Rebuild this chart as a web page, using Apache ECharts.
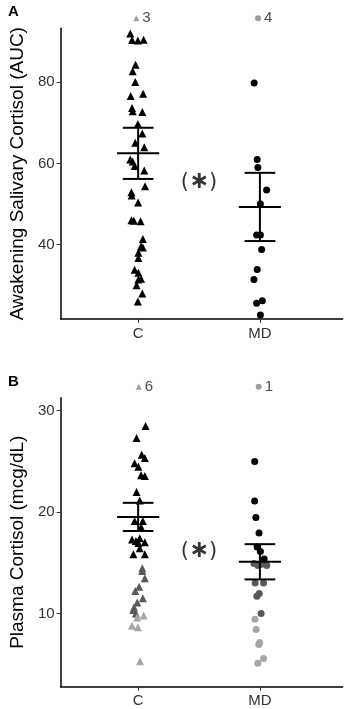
<!DOCTYPE html>
<html><head><meta charset="utf-8">
<script src="https://cdn.jsdelivr.net/npm/echarts@6/dist/echarts.min.js"></script>
<style>html,body{margin:0;padding:0;background:#fff;} #c{width:346px;height:709px;}</style>
</head><body><div id="c"></div>
<script>
const categories = ['C', 'MD'];
const panelLabels = ['A', 'B'];
const yTitles = ['Awakening Salivary Cortisol (AUC)', 'Plasma Cortisol (mcg/dL)'];

// Panel A – salivary cortisol (AUC)
const aCValues = [92.0, 90.4, 90.3, 90.5, 84.3, 82.7, 80.1, 76.6, 77.2, 73.7, 72.9, 72.7, 69.7, 67.4, 65.1, 64.0, 61.0, 60.5, 59.4, 58.3, 54.4, 52.9, 52.1, 50.4, 46.0, 45.9, 45.8, 41.4, 39.6, 39.3, 38.0, 36.7, 33.8, 33.1, 31.6, 31.4, 30.0, 28.0, 26.0];
const aCJitter = [-0.065, -0.05, -0.002, 0.045, -0.021, -0.045, -0.024, -0.061, 0.041, -0.05, -0.045, 0.034, -0.002, 0.034, -0.024, 0.05, -0.065, -0.045, -0.029, 0.05, 0.057, -0.055, -0.053, 0, -0.055, -0.035, 0.02, 0.039, 0.024, 0.039, 0.002, 0.002, -0.029, 0.002, 0.024, 0.002, -0.013, 0.034, -0.002];
const aMDValues = [79.8, 61.0, 59.0, 53.5, 50.0, 42.4, 42.4, 38.8, 33.9, 31.4, 25.6, 26.2, 22.7];
const aMDJitter = [-0.047, -0.022, -0.017, 0.055, 0.004, -0.027, 0.004, 0.014, -0.022, -0.049, -0.027, 0.02, 0.004];
const aMean = [62.5, 49.3];
const aLower = [56.2, 40.9];
const aUpper = [68.8, 57.7];
const aOffscale = [3, 4];
const aOffscaleJitter = [-0.015, -0.015];
const aYTicks = [40, 60, 80];
const aSigValue = 55.4;

// Panel B – plasma cortisol (mcg/dL)
const bCBlack = [28.46, 27.28, 25.64, 25.31, 24.79, 24.46, 23.61, 23.54, 21.97, 21.12, 19.11, 19.11, 18.53, 17.41, 17.29, 17.15, 16.95, 17.02, 16.43, 15.84, 15.84];
const bCBlackJitter = [0.061, -0.013, 0.029, 0.055, -0.029, 0.002, 0.024, 0.055, -0.013, 0.013, -0.029, 0.039, 0.024, 0.013, -0.05, -0.018, 0.002, 0.055, 0.013, -0.039, 0.055];
const bCDark = [14.46, 14.2, 13.48, 12.63, 12.23, 11.51, 11.1, 10.6, 10.34, 10.0];
const bCDarkJitter = [0.034, 0.034, 0.055, 0.008, -0.024, 0.039, -0.008, -0.034, -0.039, -0.018];
const bCLight = [9.8, 9.6, 8.8, 8.65, 5.3];
const bCLightJitter = [0.045, -0.008, -0.05, -0.002, 0.016];
const bMDBlack = [24.96, 21.08, 19.45, 17.94, 16.56, 16.11, 15.38];
const bMDBlackJitter = [-0.043, -0.043, -0.033, -0.007, -0.023, 0.004, 0.035];
const bMDDark = [14.93, 14.73, 14.86, 14.73, 13.0, 13.0, 11.98, 11.7, 10.0];
const bMDDarkJitter = [-0.049, -0.017, 0.014, 0.056, -0.039, 0.03, -0.006, -0.025, 0.01];
const bMDLight = [9.45, 8.44, 7.15, 6.95, 5.57, 5.1];
const bMDLightJitter = [-0.041, -0.031, -0.002, -0.009, 0.03, -0.017];
const bMean = [19.5, 15.09];
const bLower = [18.13, 13.36];
const bUpper = [20.9, 16.83];
const bOffscale = [6, 1];
const bOffscaleJitter = [0.005, -0.01];
const bYTicks = [10, 20, 30];
const bSigValue = 16.14;

const BLACK = '#000000', DARK = '#595959', LIGHT = '#a6a6a6', ANNO = '#858585';
const FONT = 'Liberation Sans, Arial, sans-serif';

function pts(values, jitter, cat) { return values.map((v, i) => [cat + 1 + jitter[i], v]); }

function errRender(params, api) {
  const x = api.value(0), m = api.value(1), lo = api.value(2), hi = api.value(3);
  const c = (xx, yy) => api.coord([xx, yy]);
  const style = { stroke: '#000', lineWidth: 2 };
  const mk = (p1, p2) => ({ type: 'line', shape: { x1: p1[0], y1: p1[1], x2: p2[0], y2: p2[1] }, style });
  return { type: 'group', children: [
    mk(c(x, lo), c(x, hi)),
    mk(c(x - 0.173, m), c(x + 0.173, m)),
    mk(c(x - 0.126, lo), c(x + 0.126, lo)),
    mk(c(x - 0.126, hi), c(x + 0.126, hi))
  ]};
}

function scat(gi, data, symbol, color, size) {
  return { type: 'scatter', xAxisIndex: gi, yAxisIndex: gi, data, symbol, symbolSize: size,
    itemStyle: { color, opacity: 1 }, silent: true, z: 3 };
}

const grids = [
  { left: 48, top: 28.3, width: 294.7, height: 290.7 },
  { left: 48, top: 397.7, width: 294.7, height: 289 }
];

function xAxisCfg(gi) {
  return { type: 'value', gridIndex: gi, min: 0.363, max: 2.68,
    axisLine: { show: true, onZero: false, lineStyle: { color: '#000', width: 1.5 } },
    splitLine: { show: false },
    axisTick: { show: true, customValues: [1, 2], length: 4, lineStyle: { color: '#333', width: 1 } },
    axisLabel: { customValues: [1, 2], formatter: v => categories[Math.round(v) - 1], fontSize: 15, color: '#333', margin: 7, fontFamily: FONT } };
}
function yAxisCfg(gi, min, max, ticks, title) {
  return { type: 'value', gridIndex: gi, min, max,
    name: title, nameLocation: 'middle', nameGap: 29,
    nameTextStyle: { fontSize: 19, color: '#000', fontFamily: FONT },
    axisLine: { show: true, onZero: false, lineStyle: { color: '#000', width: 1.5 } },
    splitLine: { show: false },
    axisTick: { show: true, customValues: ticks, length: 4, lineStyle: { color: '#333', width: 1 } },
    axisLabel: { customValues: ticks, fontSize: 15, color: '#333', margin: 6, fontFamily: FONT } };
}

function offscaleSeries(gi, yVal, counts, jit) {
  return [
    { type: 'scatter', xAxisIndex: gi, yAxisIndex: gi, clip: false, symbol: 'triangle', symbolSize: 6,
      itemStyle: { color: ANNO }, data: [{ value: [1 + jit[0], yVal], label: { formatter: String(counts[0]) } }],
      label: { show: true, position: 'right', distance: 3, fontSize: 15, color: '#222', fontFamily: FONT } },
    { type: 'scatter', xAxisIndex: gi, yAxisIndex: gi, clip: false, symbol: 'circle', symbolSize: 6,
      itemStyle: { color: ANNO }, data: [{ value: [2 + jit[1], yVal], label: { formatter: String(counts[1]) } }],
      label: { show: true, position: 'right', distance: 3, fontSize: 15, color: '#222', fontFamily: FONT } }
  ];
}
function sigSeries(gi, yVal) {
  return { type: 'scatter', xAxisIndex: gi, yAxisIndex: gi, symbolSize: 0, data: [[1.5, yVal]],
    label: { show: true, position: 'inside', formatter: '{p|(}{s|\u2217}{p|)}',
      rich: {
        p: { fontSize: 21, color: '#000', fontFamily: 'DejaVu Sans' },
        s: { fontSize: 24, fontWeight: 'bold', color: '#000', fontFamily: 'DejaVu Sans' }
      } } };
}
function errSeries(gi, mean, lo, hi) {
  return { type: 'custom', xAxisIndex: gi, yAxisIndex: gi, renderItem: errRender, z: 4,
    encode: { x: 0, y: 1 },
    data: categories.map((c, i) => [i + 1, mean[i], lo[i], hi[i]]) };
}

const option = {
  animation: false,
  grid: grids,
  xAxis: [xAxisCfg(0), xAxisCfg(1)],
  yAxis: [yAxisCfg(0, 21.7, 93.3, aYTicks, yTitles[0]), yAxisCfg(1, 2.8, 31.25, bYTicks, yTitles[1])],
  graphic: [
    { type: 'text', left: 8, top: 4, style: { text: panelLabels[0], font: 'bold 15px ' + FONT, fill: '#000' } },
    { type: 'text', left: 8, top: 374, style: { text: panelLabels[1], font: 'bold 15px ' + FONT, fill: '#000' } }
  ],
  series: [
    scat(0, pts(aCValues, aCJitter, 0), 'triangle', BLACK, 8),
    scat(0, pts(aMDValues, aMDJitter, 1), 'circle', BLACK, 7),
    errSeries(0, aMean, aLower, aUpper),
    ...offscaleSeries(0, 95.8, aOffscale, aOffscaleJitter),
    sigSeries(0, aSigValue),
    scat(1, pts(bCBlack, bCBlackJitter, 0), 'triangle', BLACK, 8),
    scat(1, pts(bCDark, bCDarkJitter, 0), 'triangle', DARK, 8),
    scat(1, pts(bCLight, bCLightJitter, 0), 'triangle', LIGHT, 8),
    scat(1, pts(bMDBlack, bMDBlackJitter, 1), 'circle', BLACK, 7),
    scat(1, pts(bMDDark, bMDDarkJitter, 1), 'circle', DARK, 7),
    scat(1, pts(bMDLight, bMDLightJitter, 1), 'circle', LIGHT, 7),
    errSeries(1, bMean, bLower, bUpper),
    ...offscaleSeries(1, 32.33, bOffscale, bOffscaleJitter),
    sigSeries(1, bSigValue)
  ]
};
const chart = echarts.init(document.getElementById('c'), null, { renderer: 'canvas' });
chart.setOption(option);
</script></body></html>
